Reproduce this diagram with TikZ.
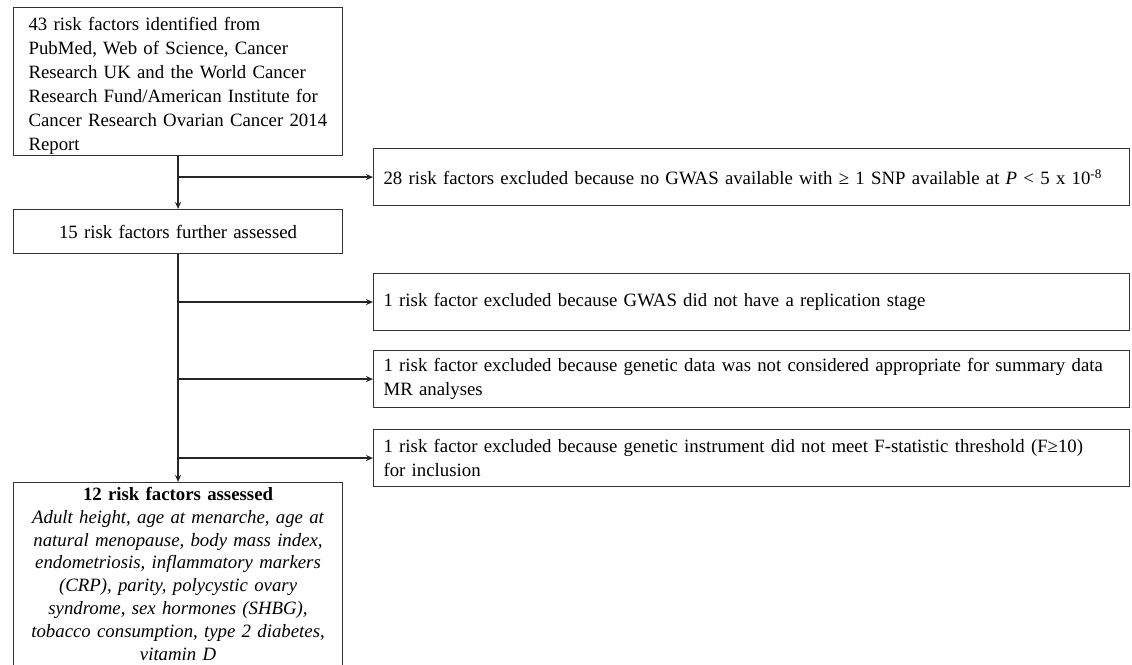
\documentclass[tikz,border=0pt]{standalone}
\usepackage{fontspec}
\setmainfont{Liberation Serif}
\usetikzlibrary{arrows.meta}
\begin{document}
\begin{tikzpicture}[x=1pt,y=-1pt,
  box/.style={draw=black!80, line width=1.1pt, fill=white, inner xsep=10pt, inner ysep=3pt,
    font=\fontsize{18.8}{24}\selectfont, anchor=north west},
  arr/.style={draw=black!85, line width=1.3pt, -{Stealth[length=7pt,width=6pt]}}]
\useasboundingbox (0,0) rectangle (1132,664);
\clip (0,0) rectangle (1132,664);
\fill[white] (0,0) rectangle (1132,664);
% left column
\node[box, minimum width=329pt, text width=309pt, inner ysep=1.5pt, align=left] (b1) at (13,7)
  {\hspace*{5pt}\parbox[t]{309pt}{\raggedright\rule{0pt}{21pt}43 risk factors identified from\\PubMed, Web of Science, Cancer\\Research UK and the World Cancer\\Research Fund/American Institute for\\Cancer Research Ovarian Cancer 2014\\Report}};
\node[box, minimum width=329pt, minimum height=44pt, text width=309pt, align=center] (b2) at (13,209)
  {15 risk factors further assessed};
\node[box, minimum width=329pt, text width=315pt, inner xsep=7pt, align=center, inner ysep=4.5pt,
  font=\fontsize{18.8}{22.9}\selectfont] (b3) at (13,482)
  {\textbf{12 risk factors assessed}\\\textit{Adult height, age at menarche, age at\\natural menopause, body mass index,\\endometriosis, inflammatory markers\\(CRP), parity, polycystic ovary\\syndrome, sex hormones (SHBG),\\tobacco consumption, type 2 diabetes,\\vitamin D}\\\rule{0pt}{6pt}};
% right column
\node[box, minimum width=756pt, minimum height=57pt, text width=736pt, align=left] (e1) at (373,148)
  {28 risk factors excluded because no GWAS available with ≥ 1 SNP available at \textit{P} < 5 x 10\textsuperscript{-8}};
\node[box, minimum width=756pt, minimum height=57pt, text width=736pt, align=left] (e2) at (373,273)
  {1 risk factor excluded because GWAS did not have a replication stage};
\node[box, minimum width=756pt, minimum height=57pt, text width=736pt, align=left] (e3) at (373,350)
  {1 risk factor excluded because genetic data was not considered appropriate for summary data\\MR analyses};
\node[box, minimum width=756pt, minimum height=57pt, text width=736pt, align=left] (e4) at (373,429)
  {1 risk factor excluded because genetic instrument did not meet F-statistic threshold (F≥10)\\for inclusion};
% connectors
\draw[arr] (b1.south) -- (b2.north);
\draw[arr] (b1.south |- e1.west) -- (e1.west);
\draw[arr] (b2.south) -- (b3.north);
\draw[arr] (b2.south |- e2.west) -- (e2.west);
\draw[arr] (b2.south |- e3.west) -- (e3.west);
\draw[arr] (b2.south |- e4.west) -- (e4.west);
\end{tikzpicture}
\end{document}
